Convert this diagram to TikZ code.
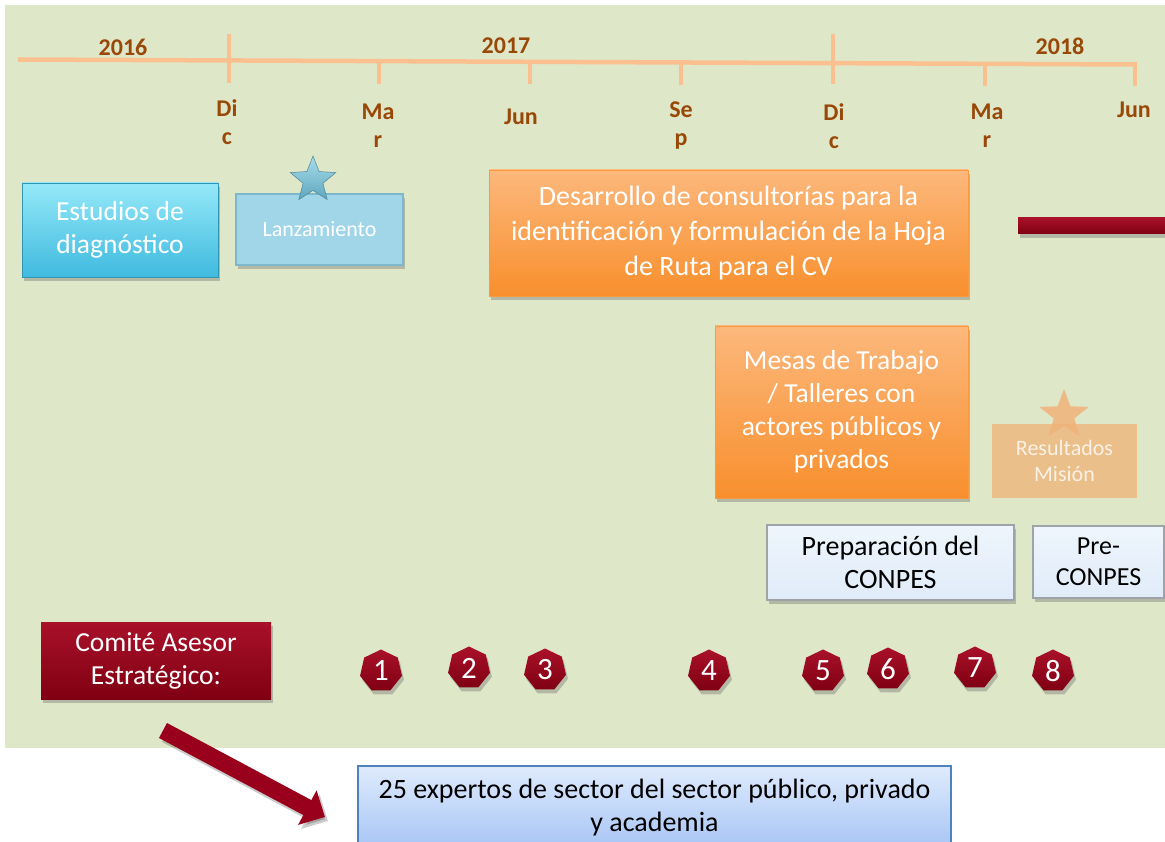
\documentclass[tikz,border=0pt]{standalone}
\usepackage{fontspec}
\setmainfont{Carlito}
\usetikzlibrary{shapes.geometric,shadows,arrows.meta}
\definecolor{bg}{HTML}{DFE7C9}
\definecolor{tl}{HTML}{FAC090}
\definecolor{brown}{HTML}{984807}
\definecolor{cyantop}{HTML}{95E9F8}
\definecolor{cyanbot}{HTML}{3FBADF}
\definecolor{lanz}{HTML}{A0D6E7}
\definecolor{lanzedge}{HTML}{7DB7CB}
\definecolor{startop}{HTML}{A9DCEA}
\definecolor{starbot}{HTML}{5FA7C0}
\definecolor{ortop}{HTML}{FCB87C}
\definecolor{orbot}{HTML}{F88F2D}
\definecolor{redtop}{HTML}{A8112A}
\definecolor{redbot}{HTML}{800012}
\definecolor{resbox}{HTML}{EBBF8A}
\definecolor{resstar}{HTML}{F0B27A}
\definecolor{restext}{HTML}{F9F1E6}
\definecolor{preptop}{HTML}{EEF5FC}
\definecolor{prepbot}{HTML}{E0ECF9}
\definecolor{prepedge}{HTML}{9EA3A8}
\definecolor{bluetop}{HTML}{DFEBFD}
\definecolor{bluebot}{HTML}{A6C4F5}
\definecolor{blueedge}{HTML}{4F81BD}
\definecolor{arrowred}{HTML}{98001C}
\tikzset{
  shadowed/.style={drop shadow={shadow xshift=2pt,shadow yshift=-4pt,opacity=.3,fill=black!70}},
  box/.style={rectangle, inner sep=0pt, align=center, shadowed},
  tick/.style={draw=tl, line width=4.5pt},
  yearlbl/.style={text=brown, font=\fontsize{24}{28}\selectfont\bfseries, inner sep=0pt},
  monlbl/.style={text=brown, font=\fontsize{24}{28}\selectfont\bfseries, inner sep=0pt, align=center},
  bigwhite/.style={text=white, font=\fontsize{27.5}{33}\selectfont},
  hept/.style={regular polygon, regular polygon sides=7, minimum size=43pt, inner sep=0pt,
    top color=redtop, bottom color=redbot, draw=none, text=white,
    font=\fontsize{31}{31}\selectfont, shadowed},
}
\begin{document}
\begin{tikzpicture}[x=1pt,y=-1pt]
\useasboundingbox (0,0) rectangle (1165,842);
\fill[bg] (5,5) rectangle (1165,748);

% timeline
\draw[tick] (18,59.5) -- (1137,64.5);
\draw[tick] (229,34) -- (229,83);
\draw[tick] (379,61) -- (379,84);
\draw[tick] (530,61) -- (530,84);
\draw[tick] (681,62) -- (681,85);
\draw[tick] (833,34) -- (833,84);
\draw[tick] (985,63) -- (985,86);
\draw[tick] (1135,62) -- (1135,86);

\node[yearlbl] (y16) at (123,47) {2016};
\node[yearlbl] (y17) at (506,46) {2017};
\node[yearlbl] (y18) at (1060,46) {2018};
\node[monlbl] (m1) at (227,122) {Di\\c};
\node[monlbl] (m2) at (378,126) {Ma\\r};
\node[monlbl] (m3) at (521,117) {Jun};
\node[monlbl] (m4) at (681,126) {Se\\p};
\node[monlbl] (m5) at (834,126) {Di\\c};
\node[monlbl] (m6) at (987,126) {Ma\\r};
\node[monlbl] (m7) at (1134,110) {Jun};

% upper boxes
\node[box, bigwhite, minimum width=196pt, minimum height=94pt,
  top color=cyantop, bottom color=cyanbot, draw=cyanbot!80!black, line width=.6pt]
  (est) at (120,230) {Estudios de\\diagnóstico};
\node[box, text=white, font=\fontsize{22}{26}\selectfont, minimum width=167pt, minimum height=71pt,
  fill=lanz, draw=lanzedge, line width=1.2pt]
  (lanz) at (319.5,229.5) {Lanzamiento};
\node[star, star points=5, star point ratio=2.3, minimum size=48pt, inner sep=0pt,
  top color=startop, bottom color=starbot, draw=starbot!80!black, line width=.5pt]
  (star1) at (313,180) {};
\node[box, bigwhite, font=\fontsize{28}{35}\selectfont, minimum width=479pt, minimum height=126pt,
  top color=ortop, bottom color=orbot, draw=orbot!90!white, line width=.6pt]
  (des) at (728.5,233) {Desarrollo de consultorías para la\\identificación y formulación de la Hoja\\de Ruta para el CV};
\node[box, minimum width=150pt, minimum height=16pt, top color=redtop, bottom color=redbot]
  (rbar) at (1093,226) {};

% middle
\node[box, bigwhite, minimum width=253pt, minimum height=172pt,
  top color=ortop, bottom color=orbot, draw=orbot!90!white, line width=.6pt]
  (mesas) at (841.5,412) {Mesas de Trabajo\\/ Talleres con\\actores públicos y\\privados};
\node[rectangle, inner sep=0pt, align=center, minimum width=145pt, minimum height=74pt,
  fill=resbox, text=restext, font=\fontsize{22}{26}\selectfont]
  (res) at (1064.5,461) {Resultados\\Misión};
\node[star, star points=5, star point ratio=2.4, minimum size=52pt, inner sep=0pt,
  fill=resstar, fill opacity=.85]
  (star2) at (1064,415) {};

\node[box, text=black, font=\fontsize{28}{33}\selectfont, minimum width=247pt, minimum height=75pt,
  top color=preptop, bottom color=prepbot, draw=prepedge, line width=1.5pt]
  (prep) at (890.5,562.5) {Preparación del\\CONPES};
\node[box, text=black, font=\fontsize{26}{31}\selectfont, minimum width=131pt, minimum height=72pt,
  top color=preptop, bottom color=prepbot, draw=prepedge, line width=1.5pt]
  (pre) at (1098.5,562) {Pre-\\CONPES};

% comite
\node[box, text=white, font=\fontsize{27.5}{33}\selectfont, minimum width=230pt, minimum height=77pt,
  top color=redtop, bottom color=redbot]
  (com) at (156,660.5) {Comité Asesor\\Estratégico:};

\node[hept] (h1) at (381,671) {1};
\node[hept] (h2) at (469,668) {2};
\node[hept] (h3) at (545,670) {3};
\node[hept] (h4) at (709,671) {4};
\node[hept] (h5) at (823,671) {5};
\node[hept] (h6) at (888,669) {6};
\node[hept] (h7) at (975,668) {7};
\node[hept] (h8) at (1053,671) {8};

% arrow
\coordinate (atail) at (163,730.5);
\coordinate (ahead) at (325,817);
\draw[line width=17pt, black, opacity=.2, -{Triangle[length=20pt,width=38pt]}]
  ([shift={(3pt,-4pt)}]atail) -- ([shift={(3pt,-4pt)}]ahead);
\draw[line width=17pt, arrowred, -{Triangle[length=20pt,width=38pt]}] (atail) -- (ahead);

% bottom box
\node[rectangle, inner sep=0pt, align=center, minimum width=593pt, minimum height=84pt,
  top color=bluetop, bottom color=bluebot, draw=blueedge, line width=1.5pt,
  text=black, font=\fontsize{28}{33}\selectfont]
  (bot) at (654.5,808) {25 expertos de sector del sector público, privado\\y academia};
\end{tikzpicture}
\end{document}
